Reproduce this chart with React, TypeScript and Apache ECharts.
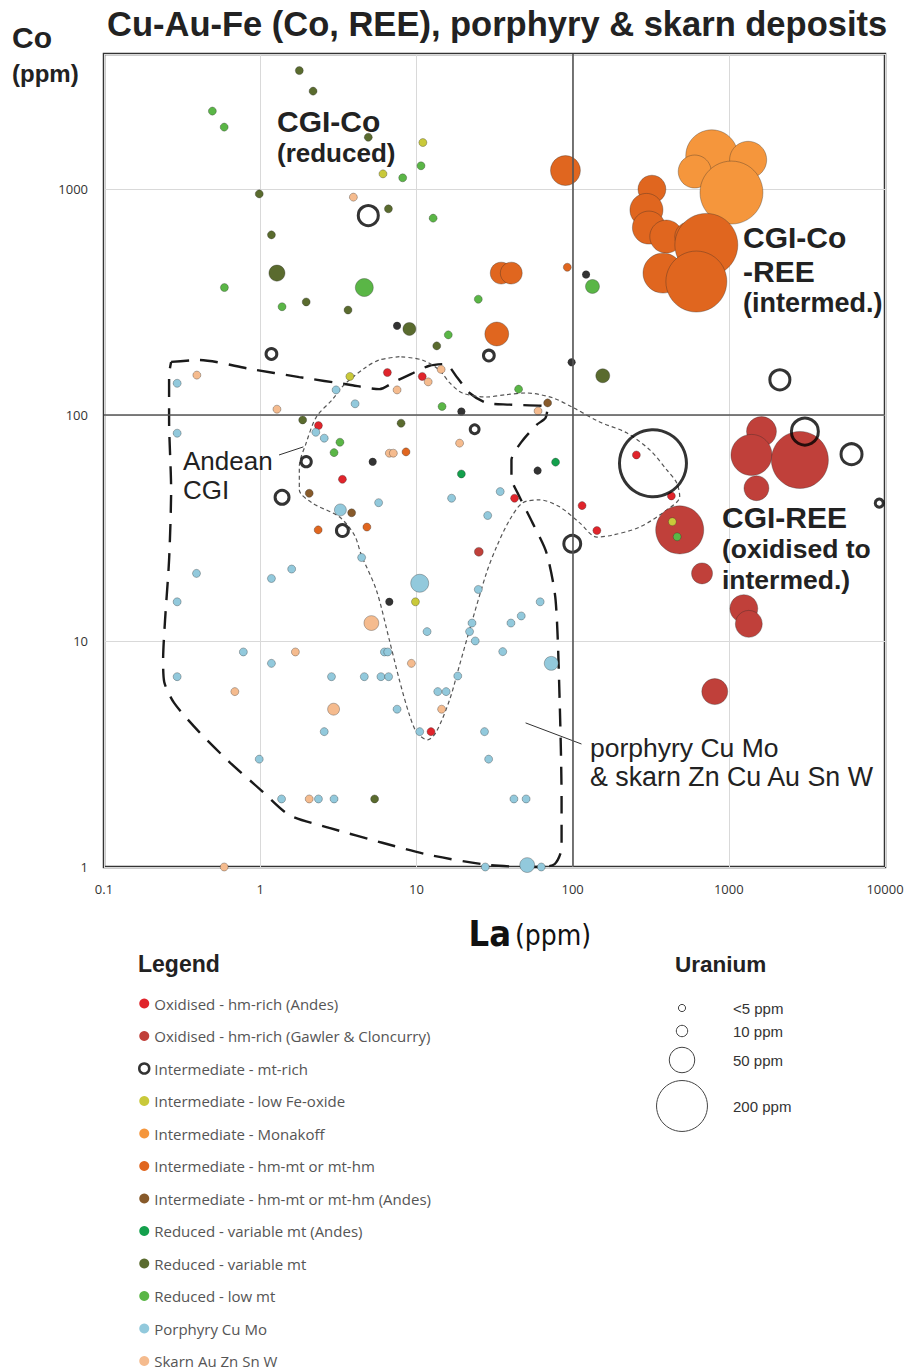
import React, { useEffect, useRef } from 'react';
import * as echarts from 'echarts';

// Data: [La ppm, Co ppm, U ppm]
const OXIDISED_ANDES = [
  [6.52, 154, 2], [2.36, 89.7, 2], [3.36, 51.9, 2], [10.9, 148, 2], [42.5, 42.8, 2],
  [115, 39.7, 2], [143, 30.8, 2], [256, 66.5, 2], [429, 43.8, 2], [12.4, 3.97, 2],
];
const OXIDISED_GAWLER = [
  [1619, 84.4, 69], [1397, 66.5, 130], [2851, 63.2, 251], [1503, 47.4, 48], [485, 31, 178],
  [674, 19.9, 34], [1248, 13.9, 60], [1343, 11.9, 56], [813, 5.97, 52], [25.1, 24.8, 6],
];
const INTERMEDIATE_MT_RICH = [
  [4.92, 762, 31], [1.18, 186, 9], [29.1, 183, 9], [1.97, 62.1, 8], [1.38, 43.2, 15],
  [3.36, 30.8, 11], [23.6, 86.4, 6], [99.5, 26.9, 22], [327, 61.1, 346], [2123, 143, 31],
  [3070, 84.4, 56], [6105, 67, 34], [9190, 40.7, 5],
  [7.52, 248, 1], [122, 418, 1], [98.6, 171, 1], [19.4, 103.5, 1], [5.25, 62.1, 1],
  [59.7, 56.7, 1], [6.71, 14.9, 1],
];
const INTERMEDIATE_LOW_FE = [
  [6.11, 1165, 2], [11.0, 1603, 2], [3.75, 148, 2], [9.86, 14.9, 2], [435, 33.7, 2],
];
const INTERMEDIATE_MONAKOFF = [
  [778, 1400, 209], [1330, 1344, 106], [605, 1193, 84], [1040, 963, 306],
];
const INTERMEDIATE_HM_MT = [
  [322, 997, 60], [297, 807, 84], [308, 674, 84], [398, 615, 84], [562, 615, 69],
  [718, 565, 306], [379, 424, 123], [620, 389, 287], [90, 1205, 69], [34.9, 424, 37],
  [40.5, 424, 37], [32.7, 228, 44], [92.5, 450, 2], [2.35, 31, 2], [4.82, 31.9, 2], [8.58, 68.6, 2],
];
const INTERMEDIATE_HM_MT_ANDES = [[2.06, 45, 2], [3.85, 36.9, 2], [69.2, 113, 2]];
const REDUCED_ANDES = [[77.8, 61.8, 2], [19.4, 54.8, 2]];
const REDUCED_VARIABLE = [
  [1.78, 3337, 2], [2.18, 2706, 2], [4.92, 1692, 2], [0.986, 950, 2], [6.62, 816, 2],
  [1.18, 626, 2], [1.28, 424, 20], [1.97, 316, 2], [3.65, 291, 2], [9.02, 240, 13],
  [13.5, 202, 2], [156, 149, 15], [1.87, 95, 2], [7.98, 91.9, 2], [5.4, 2, 2],
];
const REDUCED_LOW = [
  [0.494, 2208, 2], [0.588, 1876, 2], [8.17, 1119, 2], [10.7, 1265, 2], [12.8, 742, 2],
  [4.64, 366, 25], [0.59, 366, 2], [1.38, 301, 2], [134, 370, 15], [24.9, 325, 2],
  [16.0, 226, 2], [45.1, 130, 2], [14.6, 109, 2], [3.24, 75.7, 2], [2.97, 68.1, 2], [467, 28.9, 2],
];
const PORPHYRY = [
  [0.294, 138, 2], [3.06, 129, 2], [4.05, 112, 2], [2.27, 83.8, 2], [2.57, 78.9, 2],
  [0.294, 83, 2], [3.26, 38, 11], [5.73, 40.9, 2], [4.46, 23.4, 2], [34.4, 45.8, 2],
  [16.8, 42.8, 2], [28.6, 35.9, 2], [0.391, 19.9, 2], [1.18, 18.9, 2], [1.59, 20.8, 2],
  [0.294, 14.9, 2], [0.78, 8.94, 2], [1.18, 7.96, 2], [6.24, 8.94, 2], [6.55, 8.94, 2],
  [0.294, 6.95, 2], [2.86, 6.95, 2], [4.64, 6.95, 2], [5.93, 6.95, 2], [6.64, 6.95, 2],
  [7.52, 4.99, 2], [2.57, 3.97, 2], [0.986, 3.0, 2], [1.37, 2, 2], [2.36, 2, 2],
  [2.97, 2, 2], [24.9, 16.9, 2], [10.5, 18.0, 25], [62, 14.9, 2], [46.9, 12.9, 2],
  [40.3, 12.0, 2], [22.7, 12.0, 2], [21.9, 11.0, 2], [23.8, 10.0, 2], [11.7, 11.0, 2],
  [35.7, 8.97, 2], [73, 7.96, 15], [18.4, 7.0, 2], [13.7, 5.97, 2], [15.5, 5.97, 2],
  [10.5, 3.97, 2], [27.3, 3.97, 2], [29.0, 3.0, 2], [42.1, 2, 2], [50.4, 2, 2],
  [51.2, 1.02, 17], [27.6, 1.0, 2], [63, 1.0, 2],
];
const SKARN = [
  [3.95, 919, 2], [0.393, 150, 2], [1.28, 106, 2], [7.52, 129, 2], [11.9, 140, 2],
  [14.4, 159, 2], [6.71, 67.7, 2], [7.12, 67.7, 2], [60.1, 104, 2], [18.9, 75, 2],
  [5.15, 12.0, 17], [1.68, 8.94, 2], [0.688, 5.97, 2], [2.95, 4.99, 11], [9.29, 7.96, 2],
  [14.5, 4.99, 2], [2.06, 2, 2], [0.588, 1.0, 2],
];

// Field outlines [La, Co]
const OUTLINE_PORPHYRY_SKARN = [
  [0.269, 171.6], [0.406, 175], [0.85, 160], [1.78, 147], [3.72, 136], [5.79, 130],
  [7.23, 140], [9.29, 152], [12.1, 165], [15.3, 168], [18.3, 146], [21.9, 125],
  [28.1, 113], [39.5, 111], [69.2, 108], [67.1, 97], [58.8, 90.3], [47.1, 76],
  [40.6, 63.2], [40.6, 52.6], [44.4, 45.2], [55.4, 33.3], [68.1, 24.5], [77.8, 15.2],
  [82.6, 5.48], [85, 1.98], [85, 1.21], [76.7, 1.03], [61.4, 1.0], [29.4, 1.02],
  [12.1, 1.13], [6.05, 1.28], [2.77, 1.49], [1.53, 1.7], [1.01, 2.19], [0.633, 2.92],
  [0.406, 3.96], [0.281, 5.32], [0.243, 6.59], [0.239, 8.24], [0.246, 12.4], [0.261, 22.8],
  [0.269, 46.6], [0.261, 95], [0.261, 150], [0.269, 171.6],
];
const OUTLINE_ANDEAN_CGI = [
  [7.78, 181], [5.79, 175], [4.78, 163], [3.45, 136], [2.9, 117], [2.29, 98],
  [1.97, 75.2], [1.78, 58.9], [1.78, 46.6], [2.15, 40.8], [3.21, 35.4], [4.01, 29.4],
  [4.44, 24.0], [5.54, 16.8], [6.71, 10.1], [7.78, 6.72], [9.02, 4.71], [10.1, 3.92],
  [11.8, 3.65], [13.4, 3.96], [16.3, 5.48], [18.9, 7.83], [21.9, 11.2], [28.1, 20.0],
  [32.6, 26.1], [39.5, 34.3], [47.8, 40.8], [61.4, 42.1], [82.6, 39.2], [111, 33.3],
  [143, 28.8], [180, 29.4], [269, 31.9], [401, 38.0], [485, 43.4], [464, 50.0],
  [401, 57.1], [312, 70.0], [222, 83.3], [149, 93.1], [100, 108], [74.5, 119],
  [50.7, 125], [37.8, 123], [28.1, 120], [19.7, 125], [16.3, 139], [14.0, 158],
  [10.9, 175], [7.78, 181],
];
const LEADER_ANDEAN = [[1.32, 66.5], [1.89, 72.2]];
const LEADER_PORPHYRY = [[50, 4.34], [114, 3.5]];

const URANIUM_LEGEND = [
  { label: '<5 ppm', u: 4 },
  { label: '10 ppm', u: 10 },
  { label: '50 ppm', u: 50 },
  { label: '200 ppm', u: 200 },
];

const SERIES_DEF = [
  { name: 'Oxidised - hm-rich (Andes)', data: OXIDISED_ANDES, color: '#e0242b' },
  { name: 'Oxidised - hm-rich (Gawler & Cloncurry)', data: OXIDISED_GAWLER, color: '#c0403a' },
  { name: 'Intermediate - mt-rich', data: INTERMEDIATE_MT_RICH, color: '#000000', ring: true },
  { name: 'Intermediate - low Fe-oxide', data: INTERMEDIATE_LOW_FE, color: '#c9c93a' },
  { name: 'Intermediate - Monakoff', data: INTERMEDIATE_MONAKOFF, color: '#f5963c' },
  { name: 'Intermediate - hm-mt or mt-hm', data: INTERMEDIATE_HM_MT, color: '#e0661f' },
  { name: 'Intermediate - hm-mt or mt-hm (Andes)', data: INTERMEDIATE_HM_MT_ANDES, color: '#875a2a' },
  { name: 'Reduced - variable mt (Andes)', data: REDUCED_ANDES, color: '#13a04c' },
  { name: 'Reduced - variable mt', data: REDUCED_VARIABLE, color: '#5a6b2e' },
  { name: 'Reduced - low mt', data: REDUCED_LOW, color: '#5ab646' },
  { name: 'Porphyry Cu Mo', data: PORPHYRY, color: '#92c9dc' },
  { name: 'Skarn Au Zn Sn W', data: SKARN, color: '#f5bb8e' },
];

const uSize = (u: number) => 3.6 * Math.sqrt(u);

function buildOption() {
  const scatterSeries = SERIES_DEF.map((s) => ({
    type: 'scatter',
    name: s.name,
    data: s.ring
      ? s.data.map((d) =>
          d[2] < 2
            ? { value: d, symbolSize: 8, itemStyle: { color: '#000', borderWidth: 0 } }
            : { value: d }
        )
      : s.data,
    z: 3,
    symbol: 'circle',
    symbolSize: (v: number[]) => (s.ring ? Math.max(5, uSize(v[2])) : Math.max(8, uSize(v[2]))),
    itemStyle: s.ring
      ? { color: 'rgba(0,0,0,0)', borderColor: '#000', borderWidth: 3 }
      : { color: s.color, borderColor: 'rgba(40,40,40,0.55)', borderWidth: 0.6, opacity: 1 },
    emphasis: { disabled: true },
  }));

  const lineBase = {
    type: 'line',
    symbol: 'none',
    silent: true,
    z: 2,
    emphasis: { disabled: true },
  };

  const fonts = "'Liberation Sans', Arial, sans-serif";
  const narrow = "'Liberation Sans Narrow', 'DejaVu Sans Condensed', 'Liberation Sans', sans-serif";
  const t = (text: string, x: number, y: number, size: number, weight = 'bold', family = fonts, fill = '#222', align = 'left') => ({
    type: 'text',
    x,
    y,
    silent: true,
    z: 10,
    style: { text, fill, fontSize: size, fontWeight: weight, fontFamily: family, textAlign: align, textVerticalAlign: 'middle' },
  });

  const uranium: any[] = [];
  const uy = [1008, 1031, 1060, 1106];
  URANIUM_LEGEND.forEach((it, i) => {
    uranium.push({
      type: 'circle',
      silent: true,
      shape: { cx: 682, cy: uy[i], r: uSize(it.u) / 2 },
      style: { fill: 'none', stroke: '#444', lineWidth: 1 },
    });
    uranium.push(t(it.label, 733, uy[i], 15, 'normal', fonts, '#333'));
  });

  return {
    animation: false,
    backgroundColor: '#ffffff',
    grid: {
      left: 104, top: 54, width: 781, height: 813,
      show: true, borderColor: '#333', borderWidth: 2.5, backgroundColor: 'rgba(0,0,0,0)',
    },
    xAxis: {
      type: 'log', logBase: 10, min: 0.1, max: 10000,
      axisLine: { show: false }, axisTick: { show: false },
      splitLine: { show: true, lineStyle: { color: '#d9d9d9', width: 1 } },
      axisLabel: {
        margin: 15, fontSize: 13, color: '#333', fontFamily: "'Open Sans', sans-serif",
        formatter: (v: number) => (v < 1 ? String(+v.toFixed(1)) : String(Math.round(v))),
      },
    },
    yAxis: {
      type: 'log', logBase: 10, min: 1, max: 3950,
      axisLine: { show: false }, axisTick: { show: false },
      splitLine: { show: true, lineStyle: { color: '#d9d9d9', width: 1 } },
      axisLabel: {
        margin: 16, fontSize: 13, color: '#333', fontFamily: "'Open Sans', sans-serif",
        showMaxLabel: false,
        formatter: (v: number) => {
          const l = Math.log10(v);
          return Math.abs(l - Math.round(l)) < 1e-6 ? String(Math.round(v)) : '';
        },
      },
    },
    legend: {
      show: true,
      orient: 'vertical',
      left: 138,
      top: 996,
      padding: 0,
      height: 380,
      itemWidth: 10,
      itemHeight: 10,
      itemGap: 17.5,
      icon: 'circle',
      selectedMode: false,
      textStyle: { fontSize: 15, lineHeight: 15, color: '#555', fontFamily: "'Open Sans', sans-serif" },
      data: SERIES_DEF.map((s) =>
        s.ring
          ? { name: s.name, itemStyle: { color: '#fff', borderColor: '#000', borderWidth: 2.5 } }
          : { name: s.name, itemStyle: { color: s.color, borderWidth: 0 } }
      ),
    },
    series: [
      {
        ...lineBase,
        data: OUTLINE_PORPHYRY_SKARN,
        smooth: 0.25,
        lineStyle: { color: '#1a1a1a', width: 2.4, type: [18, 11] },
        markLine: {
          silent: true,
          symbol: 'none',
          label: { show: false },
          lineStyle: { color: '#555', width: 1.6, type: 'solid' },
          data: [{ xAxis: 100 }, { yAxis: 100 }],
        },
      },
      {
        ...lineBase,
        data: OUTLINE_ANDEAN_CGI,
        smooth: 0.3,
        lineStyle: { color: '#555', width: 1.2, type: [4, 3] },
      },
      { ...lineBase, data: LEADER_ANDEAN, lineStyle: { color: '#333', width: 1 } },
      { ...lineBase, data: LEADER_PORPHYRY, lineStyle: { color: '#333', width: 1 } },
      ...scatterSeries,
    ],
    graphic: [
      t('Cu-Au-Fe (Co, REE), porphyry & skarn deposits', 107, 24, 34.5),
      t('Co', 12, 37, 30),
      t('(ppm)', 12, 73, 24),
      t('La', 511, 933, 36, 'bold', narrow, '#111', 'right'),
      t('(ppm)', 515, 935, 28, 'normal', narrow, '#111'),
      t('CGI-Co', 277, 121, 30),
      t('(reduced)', 277, 153, 26),
      t('CGI-Co', 743, 237, 30),
      t('-REE', 743, 271, 30),
      t('(intermed.)', 743, 303, 27),
      t('CGI-REE', 722, 517, 30),
      t('(oxidised to', 722, 549, 26.5),
      t('intermed.)', 722, 580, 26.5),
      t('Andean', 183, 461, 26, 'normal'),
      t('CGI', 183, 490, 26, 'normal'),
      t('porphyry Cu Mo', 590, 748, 26.5, 'normal'),
      t('& skarn Zn Cu Au Sn W', 590, 777, 26.8, 'normal'),
      t('Legend', 138, 964, 23),
      t('Uranium', 675, 964, 22.5),
      ...uranium,
    ],
  };
}

export default function App() {
  const ref = useRef<HTMLDivElement>(null);
  useEffect(() => {
    document.body.style.margin = '0';
    const chart = echarts.init(ref.current as HTMLDivElement, null, { renderer: 'svg' });
    chart.setOption(buildOption() as any);
    return () => chart.dispose();
  }, []);
  return <div ref={ref} style={{ width: 909, height: 1371, background: '#fff' }} />;
}
